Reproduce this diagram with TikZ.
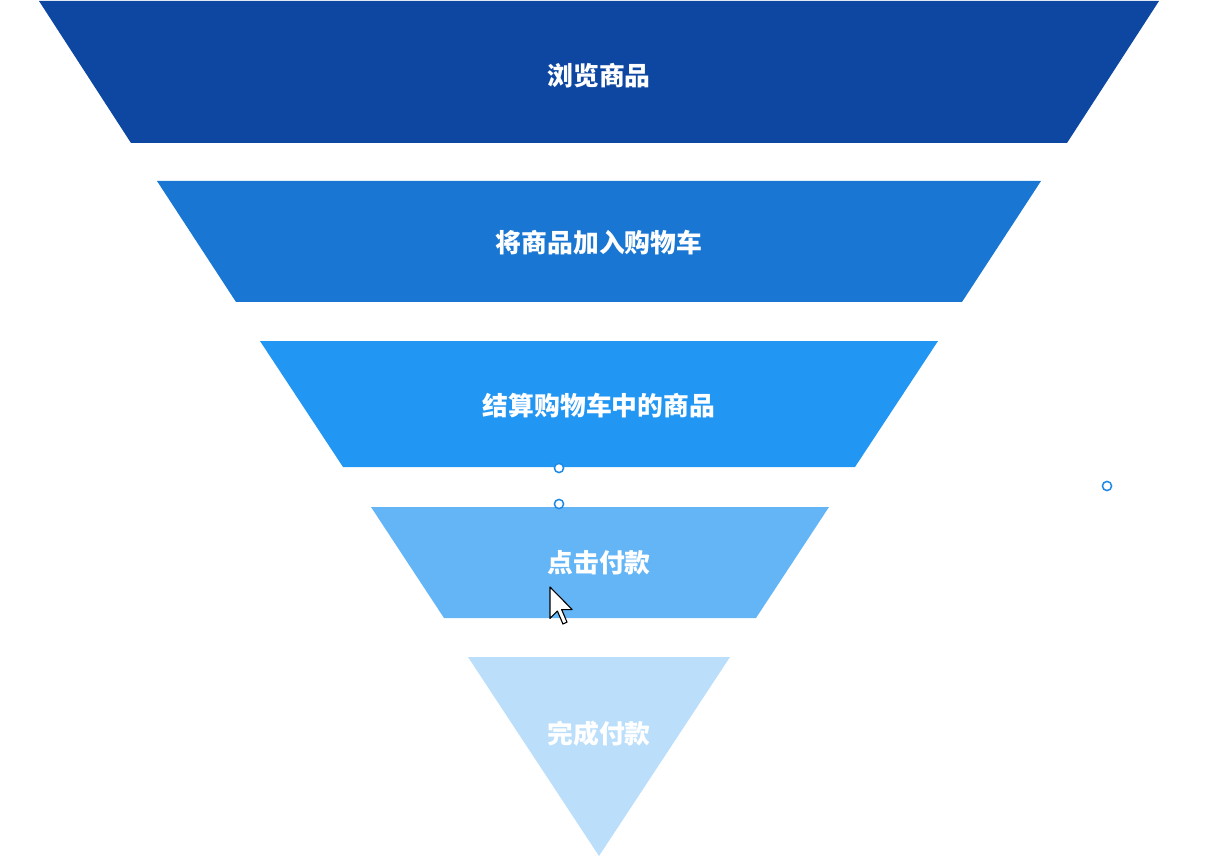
\documentclass[tikz,border=0pt]{standalone}
\usepackage{fontspec}
\newfontfamily\cjk{Noto Sans CJK SC}
\definecolor{c1}{HTML}{0D47A1}
\definecolor{c2}{HTML}{1976D2}
\definecolor{c3}{HTML}{2196F3}
\definecolor{c4}{HTML}{64B5F6}
\definecolor{c5}{HTML}{BBDEFB}
\definecolor{handle}{HTML}{1E88E5}
\tikzset{
  label/.style={text=white, font=\cjk\bfseries\fontsize{25.8}{28}\selectfont, inner sep=0pt, anchor=center},
  handlept/.style={draw=handle, fill=white, line width=1.5pt},
}
\begin{document}
\begin{tikzpicture}[x=1pt,y=-1pt]
\useasboundingbox (0,0) rectangle (1219,861);
% bands
\fill[c1] (39,1) -- (1159,1) -- (1067,143) -- (131,143) -- cycle;
\fill[c2] (157,181) -- (1041,181) -- (962,302) -- (236,302) -- cycle;
\fill[c3] (260,341) -- (938,341) -- (855,467) -- (343,467) -- cycle;
\fill[c4] (371,507) -- (829,507) -- (756,618) -- (444,618) -- cycle;
\fill[c5] (468,657) -- (730,657) -- (599,856) -- cycle;
% labels
\node[label] (t1) at (599,76) {浏览商品};
\node[label] (t2) at (599,243) {将商品加入购物车};
\node[label] (t3) at (599,406) {结算购物车中的商品};
\node[label] (t4) at (599,563) {点击付款};
\node[label] (t5) at (599,734) {完成付款};
% selection handles
\draw[handlept] (559,468) circle (4.6);
\draw[handlept] (559,504) circle (4.6);
\draw[handlept] (1107,486) circle (4.6);
% mouse cursor
\begin{scope}[shift={(550,587)}, scale=1.85]
\draw[fill=white, draw=black, line width=1.1pt, line join=round]
  (0,0) -- (0,17) -- (4,13) -- (7,20) -- (9.2,19) -- (6.3,12.2) -- (12,12.2) -- cycle;
\end{scope}
\end{tikzpicture}
\end{document}
